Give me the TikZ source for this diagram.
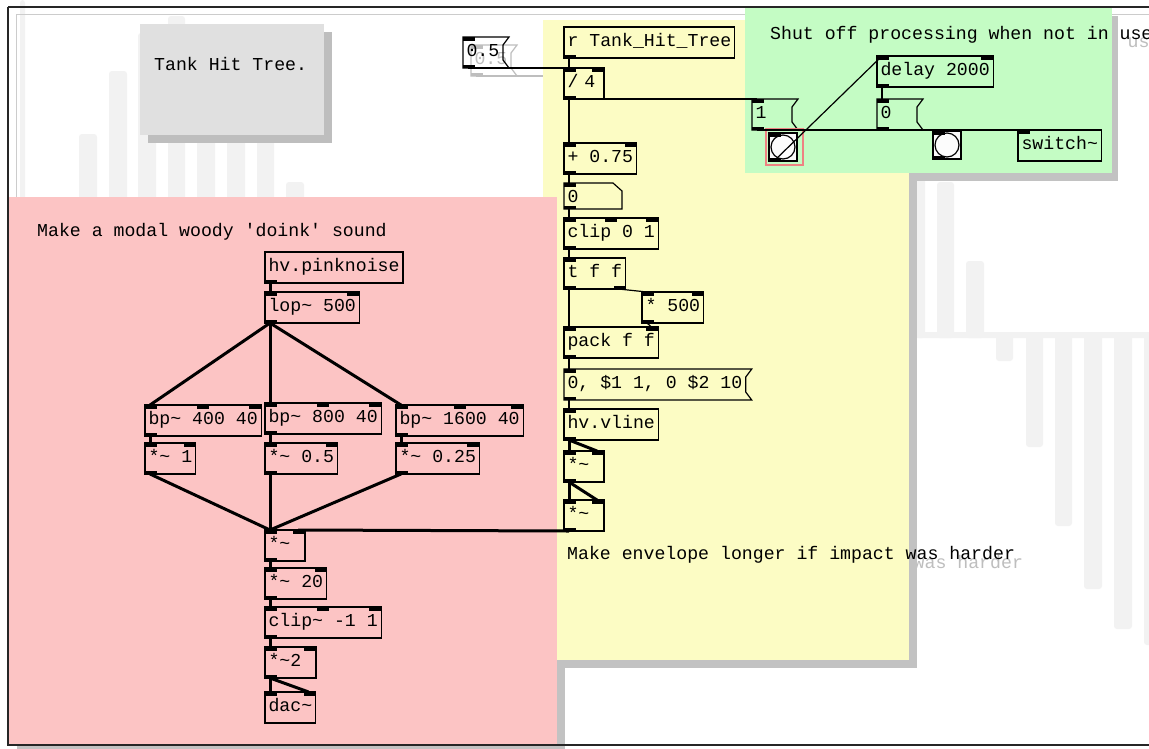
\documentclass[tikz,border=0pt]{standalone}
\usepackage{fontspec}
\setmonofont{Liberation Mono}
\usetikzlibrary{calc}

\definecolor{pdpink}{RGB}{252,196,196}
\definecolor{pdyellow}{RGB}{252,252,196}
\definecolor{pdgreen}{RGB}{196,252,196}
\definecolor{cnvshadow}{RGB}{194,194,194}
\definecolor{notegray}{RGB}{224,224,224}
\definecolor{noteshadow}{RGB}{190,190,190}
\definecolor{bgbar}{RGB}{242,242,242}
\definecolor{ghost}{RGB}{190,190,190}
\definecolor{selred}{RGB}{238,130,130}

\begin{document}
\begin{tikzpicture}[x=1pt,y=1pt,yscale=-1,xscale=1,
	font=\ttfamily\fontsize{18.2}{20}\selectfont,
	obj/.style={draw, line width=1.2pt, anchor=north west, outer sep=0pt, inner xsep=3.5pt, inner ysep=0pt, minimum height=31pt, text height=12pt, text depth=4pt},
	short/.style={text width=33pt, align=left},
	msg/.style={obj, draw=none},
	atom/.style={obj, draw=none, minimum height=26pt, text width=51pt, align=left, text depth=0pt},
	bng/.style={draw, line width=2pt, fill=white!98!black, anchor=north west, outer sep=0pt, inner sep=0pt, minimum size=28pt},
	note/.style={anchor=base west, inner sep=0pt},
	ctl/.style={line width=1.2pt},
	sig/.style={line width=3pt},
	bar/.style={fill=bgbar, rounded corners=3pt}]
	\useasboundingbox (0,0) rectangle (1149,748);
	\fill[white] (0,0) rectangle (1149,748);
	
	% faint bar chart in the background
	\foreach \xa/\xb/\ya/\yb in {20/25/0/200, 79/97/134/340, 109/127/71/340, 138/156/33/340, 168/185/16/340, 197/215/100/340, 227/245/100/340, 257/274/100/340, 286/304/182/340,
		907/925/170/338, 937/954/182/338, 966/984/261/338, 916/1160/332/338, 996/1013/332/361, 1026/1043/332/447, 1055/1072/332/526, 1084/1102/332/589, 1114/1132/332/629, 1144/1162/332/645}
		\fill[bar] (\xa,\ya) rectangle (\xb,\yb);
	
	% inner window line
	\draw[black!20, line width=1pt] (16,14.5) -- (1200,14.5) (16,14.5) -- (16,200);
	
	% ghost copy, shifted by 8
	\node[msg, short, text=ghost] (halfghost) at (471,45) {0.5};
	\draw[ghost, line width=1.2pt] (halfghost.north west) -- ($(halfghost.north east)+(6,0)$) -- ($(halfghost.north east)+(0,8)$) -- ($(halfghost.south east)+(0,-8)$) -- ($(halfghost.south east)+(6,0)$) -- (halfghost.south west) -- cycle;
	\fill[ghost] (halfghost.north west) rectangle +(12,3.5);
	\fill[ghost] (halfghost.south west) rectangle +(12,-3.5);
	\coordinate (ghostend) at (545,76);
	\draw[ghost, line width=1.2pt] ($(halfghost.south west)+(5,0)$) -- (ghostend);
	\node[note, text=ghost] (gateghost) at (778,47) {Shut off processing when not in use};
	\node[note, text=ghost] (envghost) at (575,568) {Make envelope longer if impact was harder};
	
	% canvas shadows
	\fill[cnvshadow] (17,205) rectangle (565,753);
	\fill[cnvshadow] (551,28) rectangle (917,668);
	\fill[cnvshadow] (753,16) rectangle (1118,181);
	\fill[noteshadow] (148,32) rectangle (332,143);
	
	% canvases
	\fill[pdyellow] (543,20) rectangle (909,660);
	\fill[pdgreen] (745,8) rectangle (1112,173);
	\fill[pdpink] (9,197) rectangle (557,745);
	\fill[notegray] (140,24) rectangle (324,135);
	
	% comments
	\node[note] (title) at (154,70) {Tank Hit Tree.};
	\node[note] (modal) at (37,236) {Make a modal woody \textquotesingle doink\textquotesingle{} sound};
	\node[note] (gate) at (770,39) {Shut off processing when not in use};
	\node[note] (envnote) at (567,559) {Make envelope longer if impact was harder};
	
	% envelope control
	\node[obj] (recv) at (564,27) {r Tank\_Hit\_Tree};
	\node[msg, short] (half) at (463,37) {0.5};
	\node[obj, short] (div) at (564,68) {/ 4};
	\node[obj] (offs) at (564,143) {+ 0.75};
	\node[atom] (hit) at (564,183) {0};
	\node[obj] (lim) at (564,218) {clip 0 1};
	\node[obj] (trig) at (564,258) {t f f};
	\node[obj] (len) at (642,292) {* 500};
	\node[obj] (pk) at (564,327) {pack f f};
	\node[msg] (ramp) at (564,369) {0, \$1 1, 0 \$2 10};
	\node[obj] (vl) at (564,409) {hv.vline};
	\node[obj, short] (sqa) at (564,451) {*\textasciitilde};
	\node[obj, short] (sqb) at (564,500) {*\textasciitilde};
	
	% dsp switch
	\node[obj] (dly) at (877,56) {delay 2000};
	\node[msg, short] (on) at (752,99) {1};
	\node[msg, short] (off) at (877,99) {0};
	\node[bng] (hitbang) at (769,133) {};
	\node[bng] (offbang) at (933,131) {};
	\node[obj] (dsp) at (1018,130) {switch\textasciitilde};
	
	% modal noise
	\node[obj] (noise) at (265,252) {hv.pinknoise};
	\node[obj] (lp) at (265,292) {lop\textasciitilde{} 500};
	\node[obj] (bpa) at (145,405) {bp\textasciitilde{} 400 40};
	\node[obj] (bpb) at (265,403) {bp\textasciitilde{} 800 40};
	\node[obj] (bpc) at (396,405) {bp\textasciitilde{} 1600 40};
	\node[obj] (ga) at (145,443) {*\textasciitilde{} 1};
	\node[obj] (gb) at (265,443) {*\textasciitilde{} 0.5};
	\node[obj] (gc) at (396,443) {*\textasciitilde{} 0.25};
	\node[obj, short] (mix) at (265,530) {*\textasciitilde};
	\node[obj] (drive) at (265,568) {*\textasciitilde{} 20};
	\node[obj] (sat) at (265,607) {clip\textasciitilde{} -1 1};
	\node[obj, text width=44pt, align=left] (dbl) at (265,647) {*\textasciitilde 2};
	\node[obj] (out) at (265,692) {dac\textasciitilde};
	
	% message and atom outlines
	\foreach \m in {half,on,off,ramp}
		\draw[line width=1.2pt] (\m.north west) -- ($(\m.north east)+(6,0)$) -- ($(\m.north east)+(0,8)$) -- ($(\m.south east)+(0,-8)$) -- ($(\m.south east)+(6,0)$) -- (\m.south west) -- cycle;
	\draw[line width=1.2pt] (hit.north west) -- ($(hit.north east)+(-9,0)$) -- ($(hit.north east)+(0,8)$) -- (hit.south east) -- (hit.south west) -- cycle;
	
	% bangs
	\foreach \b in {hitbang,offbang}
		\draw[line width=1.2pt, fill=white!99!black] (\b.center) circle (12);
	\draw[selred, line width=1.5pt] ($(hitbang.north west)+(-3,-4)$) rectangle ($(hitbang.south east)+(6,4)$);
	
	% inlets and outlets
	\foreach \n/\nin/\nout in {recv/0/1, half/1/1, div/2/1, offs/2/1, hit/1/1, lim/3/1, trig/1/2, len/2/1, pk/2/1, ramp/1/1, vl/1/1, sqa/2/1, sqb/2/1,
		dly/2/1, on/1/1, off/1/1, hitbang/1/1, offbang/1/1, dsp/1/0,
		noise/0/1, lp/2/1, bpa/3/1, bpb/3/1, bpc/3/1, ga/2/1, gb/2/1, gc/2/1, mix/2/1, drive/2/1, sat/3/1, dbl/2/1, out/2/0}{
		\coordinate (tr) at ($(\n.north east)+(-12,0)$);
		\coordinate (br) at ($(\n.south east)+(-12,0)$);
		\ifnum\nin>0
			\foreach \k in {1,...,\nin}{
				\pgfmathsetmacro\iopos{(\k-1)/max(\nin-1,1)}
				\fill ($(\n.north west)!\iopos!(tr)$) rectangle +(12,3.5);
				\coordinate (\n-i\k) at ($(\n.north west)!\iopos!(tr)+(5,0)$);
			}
		\fi
		\ifnum\nout>0
			\foreach \k in {1,...,\nout}{
				\pgfmathsetmacro\iopos{(\k-1)/max(\nout-1,1)}
				\fill ($(\n.south west)!\iopos!(br)$) rectangle +(12,-3.5);
				\coordinate (\n-o\k) at ($(\n.south west)!\iopos!(br)+(5,0)$);
			}
		\fi
	}
	
	% control connections
	\draw[ctl] (recv-o1) -- (div-i1);
	\draw[ctl] (half-o1) -- (div-i2);
	\draw[ctl] (div-o1) -- (offs-i1);
	\draw[ctl] (div-o1) -- (on-i1);
	\draw[ctl] (offs-o1) -- (hit-i1);
	\draw[ctl] (hit-o1) -- (lim-i1);
	\draw[ctl] (lim-o1) -- (trig-i1);
	\draw[ctl] (trig-o1) -- (pk-i1);
	\draw[ctl] (trig-o2) -- (len-i1);
	\draw[ctl] (len-o1) -- (pk-i2);
	\draw[ctl] (pk-o1) -- (ramp-i1);
	\draw[ctl] (ramp-o1) -- (vl-i1);
	\draw[ctl] (on-o1) -- (dsp-i1);
	\draw[ctl] (hitbang-o1) -- (dly-i1);
	\draw[ctl] (dly-o1) -- (off-i1);
	\draw[ctl] (off-o1) -- (dsp-i1);
	
	% signal connections
	\draw[sig] (vl-o1) -- (sqa-i1);
	\draw[sig] (vl-o1) -- (sqa-i2);
	\draw[sig] (sqa-o1) -- (sqb-i1);
	\draw[sig] (sqa-o1) -- (sqb-i2);
	\draw[sig] (sqb-o1) -- (mix-i2);
	\draw[sig] (noise-o1) -- (lp-i1);
	\foreach \b/\g in {bpa/ga, bpb/gb, bpc/gc}{
		\draw[sig] (lp-o1) -- (\b-i1);
		\draw[sig] (\b-o1) -- (\g-i1);
		\draw[sig] (\g-o1) -- (mix-i1);
	}
	\draw[sig] (mix-o1) -- (drive-i1);
	\draw[sig] (drive-o1) -- (sat-i1);
	\draw[sig] (sat-o1) -- (dbl-i1);
	\draw[sig] (dbl-o1) -- (out-i1);
	\draw[sig] (dbl-o1) -- (out-i2);
	
	% window frame
	\draw[black!85, line width=2pt] (8,7) -- (1200,7) (8,7) -- (8,745) -- (1200,745);
\end{tikzpicture}
\end{document}
